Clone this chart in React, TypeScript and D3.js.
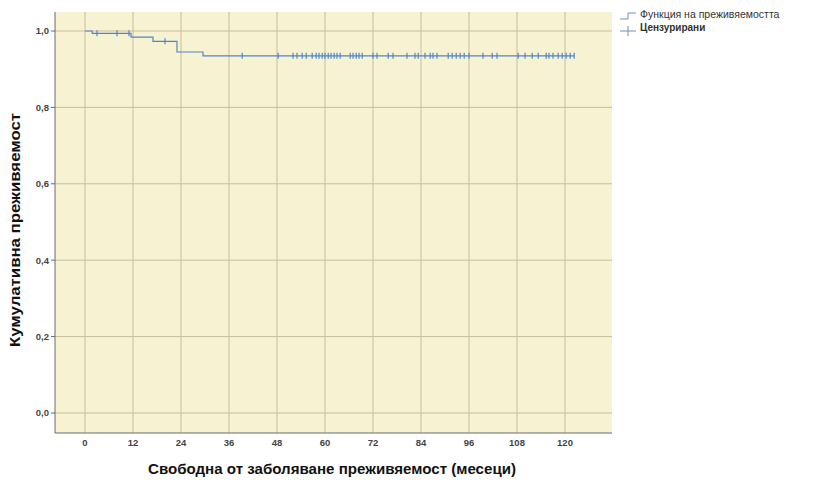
import React, { useEffect, useRef } from "react";
import * as d3 from "d3";

// axis ticks
const xTicks = [0, 12, 24, 36, 48, 60, 72, 84, 96, 108, 120];
const yTicks = [0, 0.2, 0.4, 0.6, 0.8, 1.0];

// Kaplan-Meier steps (months, survival after the event)
const eventTimes = [1.8, 11.5, 17, 23, 29.5];
const survivalAfter = [0.994, 0.984, 0.973, 0.945, 0.935];

// censored observations (months)
const censoredTimes = [
  3, 8, 11, 20, 39.3, 48.3, 52, 53, 54.3, 55.3, 56.8, 57.8, 58.5, 59.3, 60, 60.8,
  61.5, 62.3, 63, 63.8, 66.3, 67, 67.8, 68.5, 69.3, 72, 73, 75.8, 77, 80.5, 82.5,
  83.3, 85, 86.3, 87, 88, 90.8, 91.8, 92.8, 93.8, 94.8, 96, 99.5, 101.8, 103,
  108.3, 110, 111.8, 113.3, 115.3, 116, 117, 118.3, 119.3, 120.3, 121.3, 122.3,
];

const legendLabels = ["Функция на преживяемостта", "Цензурирани"];

export default function App() {
  const ref = useRef<SVGSVGElement>(null);

  useEffect(() => {
    const svg = d3.select(ref.current);
    svg.selectAll("*").remove();

    const left = 55, right = 612, top = 12, bottom = 433;
    const lineColor = "#4f86c9";
    const font = "'Liberation Sans', Arial, sans-serif";

    const x = d3.scaleLinear().domain([-7.5, 131.75]).range([left, right]);
    const y = d3.scaleLinear().domain([-0.0524, 1.0497]).range([bottom, top]);

    // survival level at a given time
    const survAt = (t: number) => {
      let s = 1;
      eventTimes.forEach((e, i) => { if (e <= t) s = survivalAfter[i]; });
      return s;
    };

    // plot background
    svg.append("rect")
      .attr("x", left).attr("y", top)
      .attr("width", right - left).attr("height", bottom - top)
      .attr("fill", "#f7f2d2");

    // grid
    svg.selectAll(".vgrid").data(xTicks).join("line").attr("class", "vgrid")
      .attr("x1", d => x(d)).attr("x2", d => x(d))
      .attr("y1", top).attr("y2", bottom)
      .attr("stroke", "#c4bf9c").attr("stroke-width", 1);
    svg.selectAll(".hgrid").data(yTicks).join("line").attr("class", "hgrid")
      .attr("x1", left).attr("x2", right)
      .attr("y1", d => y(d)).attr("y2", d => y(d))
      .attr("stroke", "#c4bf9c").attr("stroke-width", 1);

    // axis lines
    svg.append("line").attr("x1", left).attr("x2", left).attr("y1", top).attr("y2", bottom)
      .attr("stroke", "#6b6b6b").attr("stroke-width", 1);
    svg.append("line").attr("x1", left).attr("x2", right).attr("y1", bottom).attr("y2", bottom)
      .attr("stroke", "#6b6b6b").attr("stroke-width", 1);

    // y ticks
    svg.selectAll(".ytick").data(yTicks).join("line").attr("class", "ytick")
      .attr("x1", left - 4).attr("x2", left)
      .attr("y1", d => y(d)).attr("y2", d => y(d))
      .attr("stroke", "#6b6b6b");
    svg.selectAll(".ylab").data(yTicks).join("text").attr("class", "ylab")
      .attr("x", left - 6).attr("y", d => y(d)).attr("dy", "0.35em")
      .attr("text-anchor", "end")
      .style("font-family", font).style("font-size", "9.5px").style("font-weight", "bold")
      .attr("fill", "#444")
      .text(d => d.toFixed(1).replace(".", ","));

    // x tick labels
    svg.selectAll(".xlab").data(xTicks).join("text").attr("class", "xlab")
      .attr("x", d => x(d)).attr("y", bottom + 13)
      .attr("text-anchor", "middle")
      .style("font-family", font).style("font-size", "9.5px").style("font-weight", "bold")
      .attr("fill", "#444")
      .text(d => d);

    // survival curve
    const pts: [number, number][] = [[0, 1]];
    eventTimes.forEach((t, i) => pts.push([t, survivalAfter[i]]));
    pts.push([d3.max(censoredTimes) as number, survivalAfter[survivalAfter.length - 1]]);
    const line = d3.line<[number, number]>()
      .x(d => x(d[0])).y(d => y(d[1]))
      .curve(d3.curveStepAfter);
    svg.append("path").datum(pts)
      .attr("d", line)
      .attr("fill", "none").attr("stroke", lineColor).attr("stroke-width", 1.2);

    // censored marks
    svg.selectAll(".cens").data(censoredTimes).join("line").attr("class", "cens")
      .attr("x1", d => x(d)).attr("x2", d => x(d))
      .attr("y1", d => y(survAt(d)) - 3).attr("y2", d => y(survAt(d)) + 3)
      .attr("stroke", lineColor).attr("stroke-width", 1.2);

    // axis titles
    svg.append("text")
      .attr("x", 332).attr("y", 474).attr("text-anchor", "middle")
      .attr("textLength", 368).attr("lengthAdjust", "spacingAndGlyphs")
      .style("font-family", font).style("font-size", "15px").style("font-weight", "bold")
      .attr("fill", "#111")
      .text("Свободна от заболяване преживяемост (месеци)");
    svg.append("text")
      .attr("transform", `translate(20, 230) rotate(-90)`)
      .attr("text-anchor", "middle")
      .attr("textLength", 234).attr("lengthAdjust", "spacingAndGlyphs")
      .style("font-family", font).style("font-size", "14px").style("font-weight", "bold")
      .attr("fill", "#111")
      .text("Кумулативна преживяемост");

    // legend
    const lg = svg.append("g").attr("transform", "translate(620, 0)");
    lg.append("path")
      .attr("d", "M0,19 H8 V13 H16")
      .attr("fill", "none").attr("stroke", "#6a8fbf").attr("stroke-width", 1);
    lg.append("line").attr("x1", 0).attr("x2", 16).attr("y1", 31).attr("y2", 31)
      .attr("stroke", "#6a8fbf");
    lg.append("line").attr("x1", 8).attr("x2", 8).attr("y1", 26).attr("y2", 36)
      .attr("stroke", "#6a8fbf");
    lg.selectAll(".lgtext").data(legendLabels).join("text").attr("class", "lgtext")
      .attr("x", 20).attr("y", (d, i) => 18 + i * 13)
      .style("font-family", font)
      .style("font-size", (d, i) => (i === 0 ? "10.5px" : "10px"))
      .style("font-weight", (d, i) => (i === 1 ? "bold" : "normal"))
      .attr("fill", "#333")
      .text(d => d);
  }, []);

  return (
    <svg ref={ref} width={814} height={482}
      style={{ position: "absolute", left: 0, top: 0, background: "#fff" }} />
  );
}
